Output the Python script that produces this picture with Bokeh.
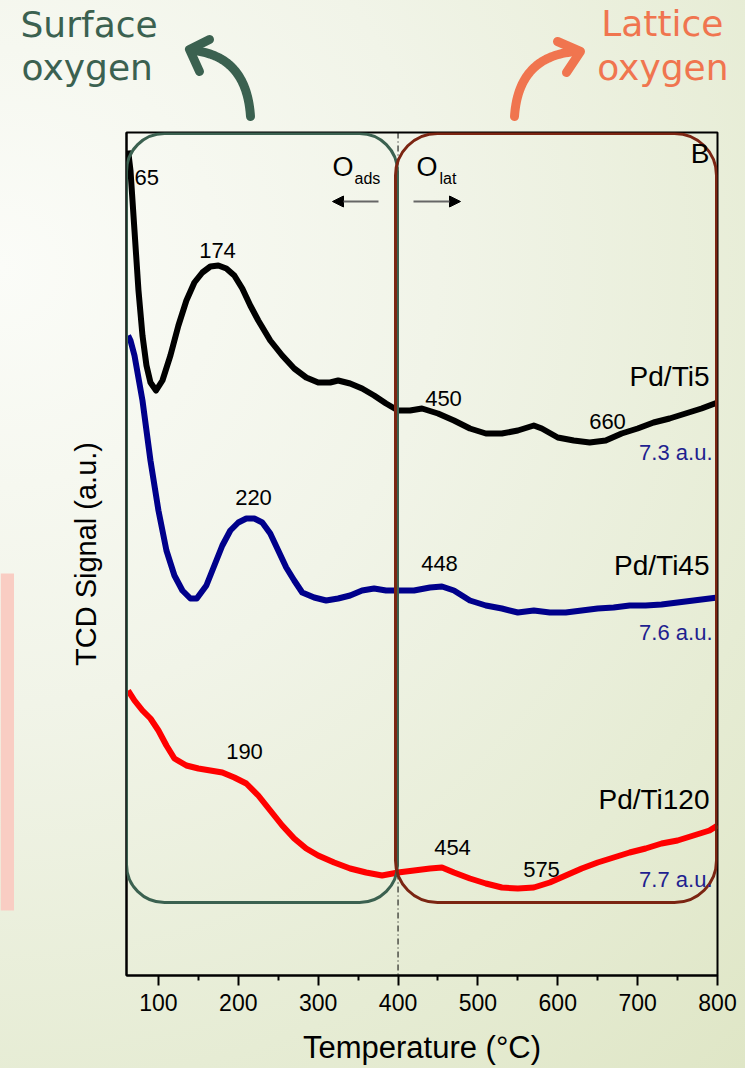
import numpy as np
from bokeh.plotting import figure
from bokeh.layouts import column, row
from bokeh.models import (Range1d, LinearAxis, FixedTicker, Label, BoxAnnotation,
                          Span, Arrow, NormalHead)
from bokeh.embed import file_html
from bokeh.resources import INLINE

# ---------------- data ----------------
temp_ti5 = [62, 65, 70, 75, 80, 85, 90, 97, 105, 115, 125, 135, 145, 155, 165, 175, 185, 195,
            205, 215, 225, 240, 255, 270, 285, 300, 315, 325, 340, 355, 370, 385, 400, 415,
            430, 450, 470, 490, 510, 530, 550, 570, 580, 600, 620, 640, 660, 680, 700, 720,
            740, 760, 780, 800]
sig_ti5 = [825, 805, 745, 685, 640, 610, 593, 585, 595, 620, 650, 675, 693, 703, 709, 710, 707,
           700, 687, 670, 655, 635, 620, 607, 598, 593, 593, 595, 592, 587, 580, 572, 565, 565,
           567, 562, 555, 547, 542, 542, 545, 550, 547, 538, 535, 533, 535, 542, 547, 553,
           557, 562, 567, 573]

temp_ti45 = [62, 65, 70, 80, 90, 100, 110, 120, 130, 140, 148, 160, 170, 180, 190, 200, 210,
             220, 230, 240, 250, 260, 270, 280, 295, 310, 325, 340, 355, 370, 385, 400, 420,
             440, 455, 470, 490, 510, 530, 550, 570, 590, 610, 630, 650, 670, 690, 710, 730,
             750, 770, 800]
sig_ti45 = [640, 635, 620, 575, 515, 465, 425, 400, 385, 377, 377, 390, 410, 430, 445, 453, 457,
            457, 453, 442, 425, 408, 395, 383, 378, 375, 377, 380, 385, 387, 385, 385, 385,
            388, 389, 385, 375, 370, 367, 363, 365, 363, 363, 365, 367, 368, 370, 370, 371,
            373, 375, 378]

temp_ti120 = [62, 70, 80, 90, 100, 110, 120, 135, 150, 165, 180, 195, 210, 225, 240, 255, 270,
              285, 300, 320, 340, 360, 380, 400, 420, 440, 455, 470, 490, 510, 530, 550, 570,
              590, 610, 630, 650, 670, 690, 710, 730, 750, 770, 790, 800]
sig_ti120 = [285, 275, 265, 257, 245, 230, 217, 210, 207, 205, 203, 198, 192, 180, 165, 150, 137,
             127, 120, 113, 107, 103, 100, 103, 105, 107, 108, 103, 97, 92, 88, 87, 88, 93, 100,
             107, 113, 118, 123, 127, 132, 135, 140, 145, 150]

major_ticks = [100, 200, 300, 400, 500, 600, 700, 800]
minor_ticks = [150, 250, 350, 450, 550, 650, 750]

series_names = ["Pd/Ti5", "Pd/Ti45", "Pd/Ti120"]
series_scale = ["7.3 a.u.", "7.6 a.u.", "7.7 a.u."]
peak_labels = ["65", "174", "450", "660", "220", "448", "190", "454", "575"]

# ---------------- layout geometry ----------------
PAGE_W, PAGE_H = 745, 1068
HEAD_H = 124            # header strip (region titles and curved arrows)
STRIP_W = 14            # narrow left strip (pink marker)
MAIN_W, MAIN_H = PAGE_W - STRIP_W, PAGE_H - HEAD_H
L, R, T, B = 112, 28, 8, 93
X0, X1 = 60, 800
Y0, Y1 = 0, 843
FW, FH = MAIN_W - L - R, MAIN_H - T - B

FONT = "Liberation Sans"
HFONT = "DejaVu Sans"
GREEN = "#3b6150"
ORANGE = "#f0754f"


def to_data(px, py):
    """reference page pixel -> main-plot data coordinates"""
    cx, cy = px - STRIP_W, py - HEAD_H
    x = X0 + (cx - L) * (X1 - X0) / FW
    y = Y0 + (T + FH - cy) * (Y1 - Y0) / FH
    return x, y


def bare(fig):
    fig.border_fill_color = None
    fig.background_fill_color = None
    fig.outline_line_color = None
    fig.min_border = 0
    return fig


# ---------------- main plot ----------------
p = figure(width=MAIN_W, height=MAIN_H, x_range=Range1d(X0, X1), y_range=Range1d(Y0, Y1),
           output_backend="svg", toolbar_location=None,
           x_axis_location=None, y_axis_location=None,
           min_border_left=L, min_border_right=R, min_border_top=T, min_border_bottom=B)
p.border_fill_color = None
p.background_fill_color = None
p.outline_line_color = "black"
p.outline_line_width = 2
p.grid.visible = False

xaxis = LinearAxis(ticker=FixedTicker(ticks=major_ticks, minor_ticks=minor_ticks),
                   axis_label="Temperature (°C)")
xaxis.axis_line_width = 2
xaxis.major_tick_in = 0
xaxis.major_tick_out = 10
xaxis.minor_tick_in = 0
xaxis.minor_tick_out = 5
xaxis.major_tick_line_width = 2
xaxis.minor_tick_line_width = 2
xaxis.major_label_text_font = FONT
xaxis.major_label_text_font_size = "23px"
xaxis.major_label_text_color = "black"
xaxis.major_label_standoff = 8
xaxis.axis_label_text_font = FONT
xaxis.axis_label_text_font_size = "31px"
xaxis.axis_label_text_font_style = "normal"
xaxis.axis_label_text_color = "black"
xaxis.axis_label_standoff = 16
p.add_layout(xaxis, "below")

yaxis = LinearAxis(ticker=FixedTicker(ticks=[]), axis_label="TCD Signal (a.u.)")
yaxis.axis_line_width = 2
yaxis.major_tick_line_color = None
yaxis.minor_tick_line_color = None
yaxis.major_label_text_font_size = "0px"
yaxis.axis_label_text_font = FONT
yaxis.axis_label_text_font_size = "29px"
yaxis.axis_label_text_font_style = "normal"
yaxis.axis_label_text_color = "black"
yaxis.axis_label_standoff = 25
p.add_layout(yaxis, "left")

# curves
p.line(temp_ti5, sig_ti5, line_color="black", line_width=6, line_join="round")
p.line(temp_ti45, sig_ti45, line_color="#00008b", line_width=6, line_join="round")
p.line(temp_ti120, sig_ti120, line_color="#ff0000", line_width=6, line_join="round")

# dash-dot separator at 400 C
p.add_layout(Span(location=400, dimension="height", line_color="black", line_width=1,
                  line_dash="6 3 1 3"))

# rounded region boxes
gl, gt = to_data(126, 133)
gr, gb = to_data(397, 902)
p.add_layout(BoxAnnotation(left=gl, right=gr, top=gt, bottom=gb, fill_alpha=0,
                           line_color=GREEN, line_alpha=1, line_width=3, border_radius=38))
bl, bt = to_data(395, 133)
br, bb = to_data(716, 902)
p.add_layout(BoxAnnotation(left=bl, right=br, top=bt, bottom=bb, fill_alpha=0,
                           line_color="#7b2512", line_alpha=1, line_width=3, border_radius=42))


def label(text, px, py, size, color="black", align="center", font=FONT):
    """py is the vertical middle of the text"""
    x, y = to_data(px, py)
    p.add_layout(Label(x=x, y=y, text=text, text_font=font, text_font_size=f"{size}px",
                       text_color=color, text_align=align, text_baseline="middle"))


# peak labels
peak_pos = [(134, 177, "left"), (217, 250, "center"), (443, 398, "center"), (607, 421, "center"),
            (253, 497, "center"), (439, 563, "center"), (244, 751, "center"),
            (452, 847, "center"), (541, 869, "center")]
for txt, (px, py, al) in zip(peak_labels, peak_pos):
    label(txt, px, py, 22, align=al)

# series names and scale
for name, sc, ny, sy in zip(series_names, series_scale, [376, 565, 799], [452, 632, 879]):
    label(name, 709, ny, 28, align="right")
    label(sc, 712, sy, 22, color="#1f1f8f", align="right")

label("B", 709, 153, 28, align="right")

# O_ads / O_lat
label("O", 332, 166, 27, align="left")
label("ads", 354, 178, 16, align="left")
label("O", 416, 166, 27, align="left")
label("lat", 439, 178, 16, align="left")

for (sx, ex) in [(378, 332), (413, 460)]:
    x_s, y_s = to_data(sx, 201)
    x_e, y_e = to_data(ex, 201)
    p.add_layout(Arrow(x_start=x_s, y_start=y_s, x_end=x_e, y_end=y_e, line_color="#666666",
                       line_width=2, end=NormalHead(size=11, fill_color="black",
                                                    line_color="black", line_width=1)))

# ---------------- header strip ----------------
head = bare(figure(width=PAGE_W, height=HEAD_H, x_range=Range1d(0, PAGE_W),
                   y_range=Range1d(0, HEAD_H), output_backend="svg", toolbar_location=None,
                   x_axis_location=None, y_axis_location=None))
head.grid.visible = False


def hlabel(text, px, py, color, align):
    head.add_layout(Label(x=px, y=HEAD_H - py, text=text, text_font=HFONT,
                          text_font_size="36px", text_color=color, text_align=align,
                          text_baseline="middle"))


hlabel("Surface", 20, 24, GREEN, "left")
hlabel("oxygen", 21, 67, GREEN, "left")
hlabel("Lattice", 723, 23, ORANGE, "right")
hlabel("oxygen", 728, 67, ORANGE, "right")


def curved_arrow(p0, p1, p2, tip, arm1, arm2, color):
    t = np.linspace(0, 1, 40)
    bx = (1 - t) ** 2 * p0[0] + 2 * (1 - t) * t * p1[0] + t ** 2 * p2[0]
    by = (1 - t) ** 2 * p0[1] + 2 * (1 - t) * t * p1[1] + t ** 2 * p2[1]
    head.line(bx, HEAD_H - by, line_color=color, line_width=9, line_cap="round",
              line_join="round")
    hx = [arm1[0], tip[0], arm2[0]]
    hy = [HEAD_H - arm1[1], HEAD_H - tip[1], HEAD_H - arm2[1]]
    head.line(hx, hy, line_color=color, line_width=9, line_cap="round", line_join="round")


curved_arrow((250, 116), (246, 55), (192, 50), (189, 49), (209, 39), (199, 71), GREEN)
curved_arrow((514, 116), (518, 55), (576, 51), (580, 51), (557, 41), (566, 72), ORANGE)

# ---------------- left strip (pink marker), frame aligned with the main plot ----------------
strip = bare(figure(width=STRIP_W, height=MAIN_H, x_range=Range1d(0, STRIP_W),
                    y_range=p.y_range, output_backend="svg", toolbar_location=None,
                    x_axis_location=None, y_axis_location=None))
strip.grid.visible = False
s_top = to_data(0, 573)[1]
s_bot = to_data(0, 910)[1]
strip.quad(left=0, right=STRIP_W, top=s_top, bottom=s_bot, fill_color="#f9cdc3", line_color=None)

page = column(head, row(strip, p, spacing=0), spacing=0,
              styles={"background": "radial-gradient(circle at 0% 25%, #fbfcf8 0%, #f1f4e8 40%, "
                                    "#e6ecd4 75%, #dfe6c6 100%)"})

open("out.html", "w").write(file_html(page, INLINE))
